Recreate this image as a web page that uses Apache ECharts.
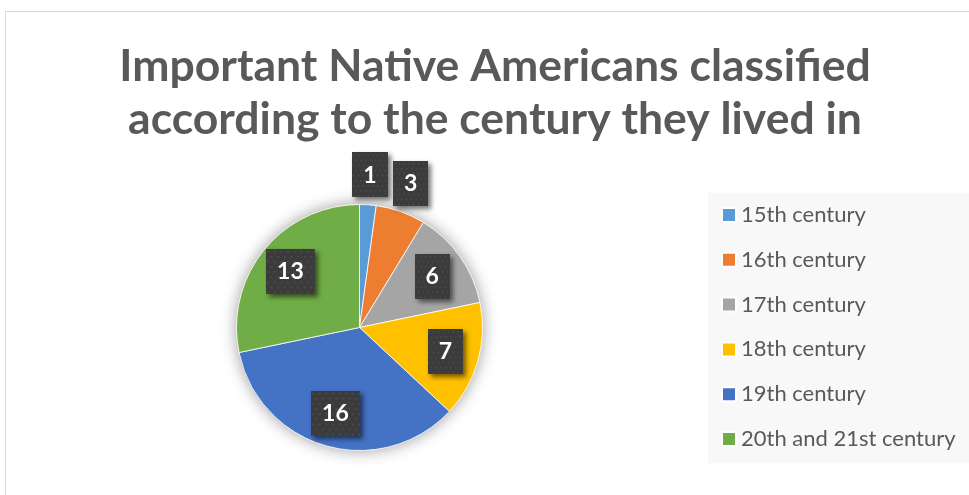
<!DOCTYPE html>
<html><head><meta charset="utf-8">
<script src="https://cdn.jsdelivr.net/npm/echarts@6/dist/echarts.min.js"></script>
<style>
html,body{margin:0;padding:0;background:#fff;width:969px;height:495px;overflow:hidden}
#wrap{position:absolute;left:5px;top:11px;width:980px;height:500px;border:1px solid #d9d9d9;box-sizing:border-box}
#chart{width:978px;height:498px}
</style></head><body>
<div id="wrap"><div id="chart"></div></div>
<script>
const titleLines = ['Important Native Americans classified', 'according to the century they lived in'];
const categories = ['15th century', '16th century', '17th century', '18th century', '19th century', '20th and 21st century'];
const values = [1, 3, 6, 7, 16, 13];
const colors = ['#5B9BD5', '#ED7D31', '#A5A5A5', '#FFC000', '#4472C4', '#70AD47'];
const outsideLabelIdx = [0, 1];

function makePattern(w, h) {
  const c = document.createElement('canvas');
  c.width = w; c.height = h;
  const g = c.getContext('2d');
  g.fillStyle = '#3b3b3b'; g.fillRect(0, 0, w, h);
  g.fillStyle = '#525252';
  for (let y = 2, r = 0; y < h; y += 5, r++) {
    for (let x = (r % 2 ? 4 : 1); x < w; x += 6) g.fillRect(x, y, 1.5, 1.5);
  }
  return c;
}
const pattern = makePattern(44, 44);

const R = 123;
const center = [353.5, 315.5];
const labelBase = {
  formatter: '{v|{c}}', position: 'inside',
  rich: {
    v: { color: '#ffffff', fontFamily: 'Lato', fontWeight: 'bold', fontSize: 23, height: 26, lineHeight: 26, align: 'center' }
  },
  padding: [10, 11, 9, 11], backgroundColor: { image: pattern },
  shadowColor: 'rgba(0,0,0,0.55)', shadowBlur: 5, shadowOffsetX: 3, shadowOffsetY: 3
};
function labelData(showFn) {
  return categories.map((n, i) => ({
    name: n, value: values[i],
    itemStyle: { color: 'rgba(0,0,0,0)' },
    label: Object.assign({}, labelBase, { show: showFn(i) })
  }));
}

const chart = echarts.init(document.getElementById('chart'), null, { renderer: 'canvas' });
chart.setOption({
  animation: false,
  backgroundColor: '#ffffff',
  title: {
    text: titleLines.join('\n'), left: 'center', top: 23,
    textStyle: { fontFamily: 'Lato', fontWeight: 'bold', fontSize: 44.5, lineHeight: 53, color: '#595959' }
  },
  legend: {
    orient: 'vertical', left: 702, top: 181,
    padding: [11, 40, 13, 13],
    backgroundColor: '#f8f8f8',
    itemWidth: 14, itemHeight: 14, itemGap: 22.8, icon: 'rect',
    textStyle: { fontFamily: 'Lato', fontSize: 22, lineHeight: 22, color: '#595959' },
    data: categories.map((n, i) => ({ name: n, itemStyle: { color: colors[i] } })),
    selectedMode: false
  },
  series: [
    {
      type: 'pie', silent: true, center, radius: R, z: 1,
      data: [{ value: 1, name: '__shadow' }],
      itemStyle: { color: '#ffffff', shadowColor: 'rgba(0,0,0,0.4)', shadowBlur: 16 },
      label: { show: false }, labelLine: { show: false }
    },
    {
      type: 'pie', center, radius: R, startAngle: 90, clockwise: true, z: 2,
      data: categories.map((n, i) => ({ name: n, value: values[i], itemStyle: { color: colors[i] } })),
      itemStyle: { borderColor: '#ffffff', borderWidth: 0.8 },
      label: { show: false }, labelLine: { show: false }, emphasis: { disabled: true }
    },
    {
      type: 'pie', silent: true, center, radius: [0.4 * R, R], startAngle: 90, clockwise: true, z: 3,
      avoidLabelOverlap: false,
      data: labelData(i => outsideLabelIdx.indexOf(i) < 0),
      labelLine: { show: false }, emphasis: { disabled: true }
    },
    {
      type: 'pie', silent: true, center, radius: [R, 1.44 * R], startAngle: 90, clockwise: true, z: 3,
      avoidLabelOverlap: false,
      data: labelData(i => outsideLabelIdx.indexOf(i) >= 0),
      labelLine: { show: false }, emphasis: { disabled: true }
    }
  ]
});
</script>
</body></html>
